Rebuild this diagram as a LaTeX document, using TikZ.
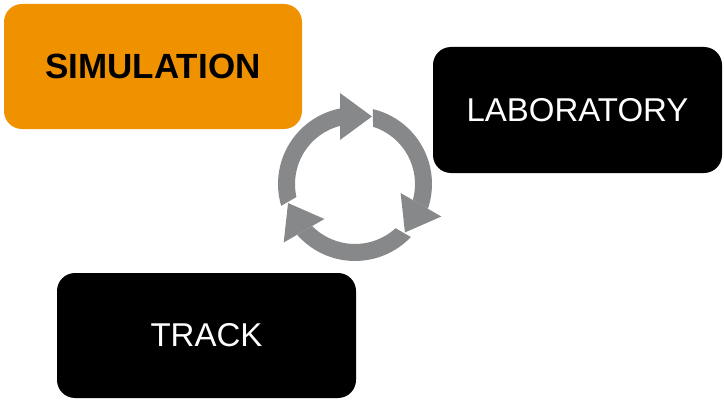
\documentclass[tikz,border=0pt]{standalone}
\usepackage{fontspec}
\setmainfont{Liberation Sans}
\definecolor{simorange}{RGB}{240,146,0}
\definecolor{ringgray}{RGB}{135,136,138}
\tikzset{
  box/.style={rounded corners=18pt, inner sep=0pt, minimum width=298pt, minimum height=125pt},
  ringpart/.style={fill=ringgray, draw=none},
}
\begin{document}
\begin{tikzpicture}[x=1pt,y=1pt]
\useasboundingbox (0,0) rectangle (724,400);
% boxes
\node[box, fill=simorange, text=black, font=\bfseries\fontsize{35}{40}\selectfont] (sim) at (153,333.5) {SIMULATION};
\node[box, fill=black, text=white, minimum width=289pt, minimum height=126pt, font=\fontsize{33}{38}\selectfont] (lab) at (577.5,290) {LABORATORY};
\node[box, fill=black, text=white, minimum width=299pt, font=\fontsize{33}{38}\selectfont] (track) at (206.5,64.5) {TRACK};
% cycle arrows
\foreach \r in {0,-120,-240}{
  \begin{scope}[shift={(355,216)}, rotate=\r]
    \fill[ringpart] ({acos(18/77)}:77pt) arc[start angle={acos(18/77)}, end angle={acos(-15/77)-120}, radius=77pt]
      -- ({acos(-15/60)-120}:60pt) arc[start angle={acos(-15/60)-120}, end angle={acos(18/60)}, radius=60pt] -- cycle;
    \fill[ringpart] (-15pt,44pt) -- (-15pt,91pt) -- (17pt,67.5pt) -- cycle;
  \end{scope}
}
\end{tikzpicture}
\end{document}
